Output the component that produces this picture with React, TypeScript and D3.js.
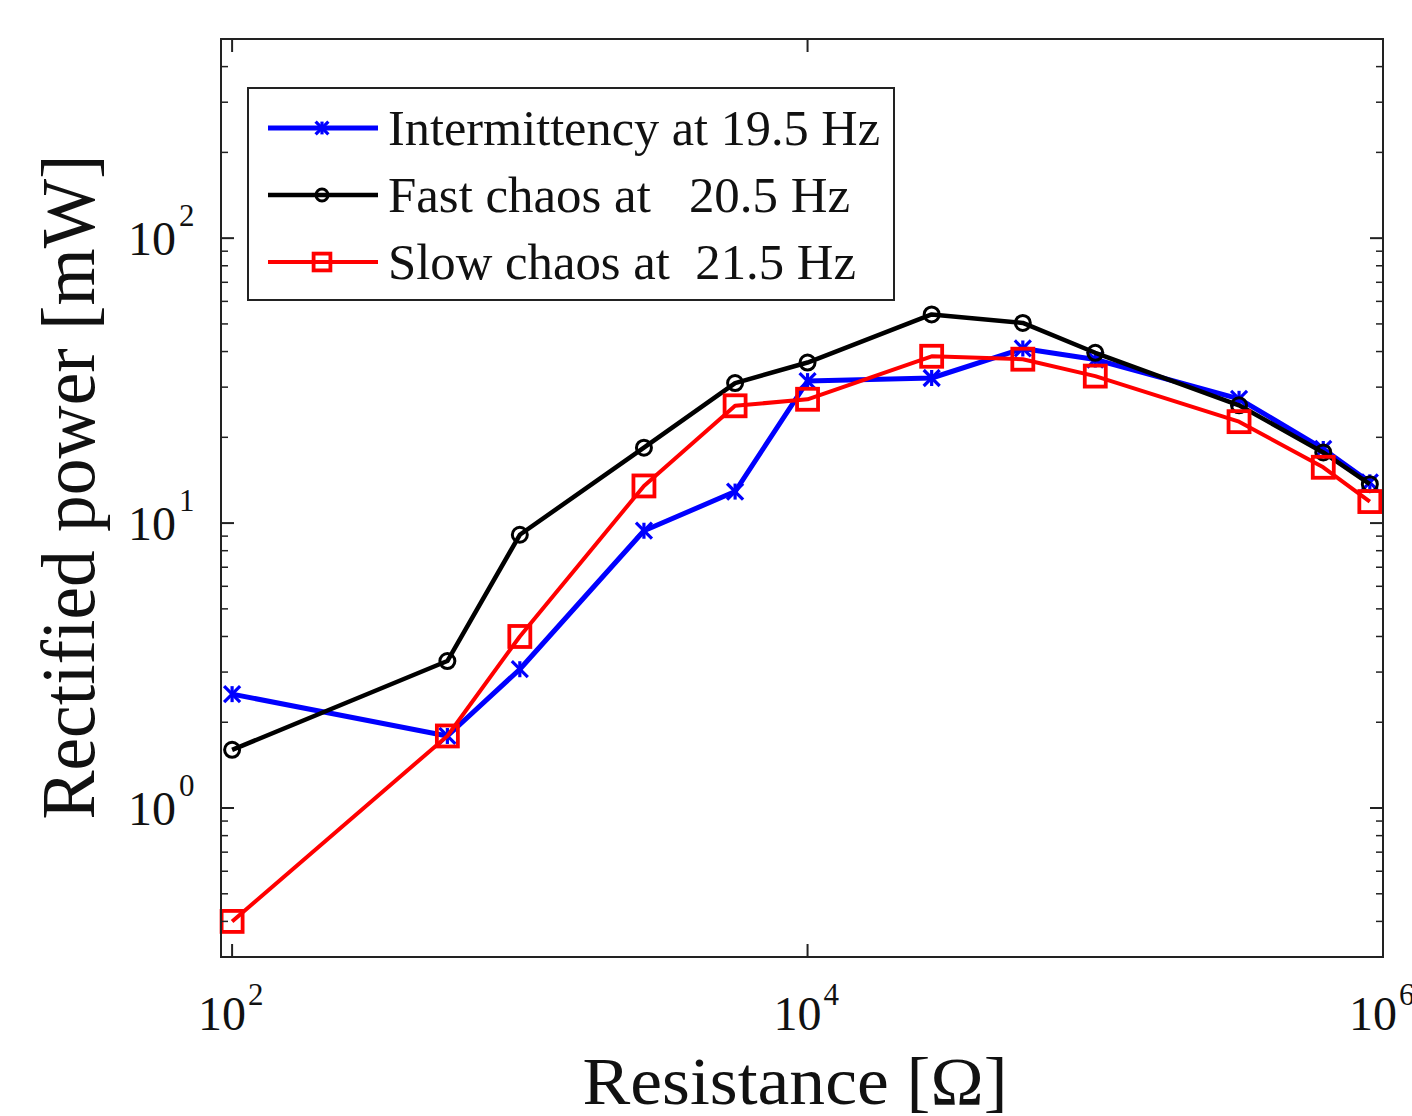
import React from "react";
import * as d3 from "d3";

const resistance = [100, 560, 1000, 2700, 5600, 10000, 27000, 56000, 100000, 316000, 620000, 900000];
const intermittency = [2.51, 1.79, 3.07, 9.4, 12.9, 31.5, 32.3, 41, 37.5, 27.3, 18.2, 13.9];
const fastChaos = [1.6, 3.28, 9.1, 18.4, 31, 36.6, 54, 50.4, 39.6, 25.9, 17.7, 13.7];
const slowChaos = [0.4, 1.79, 4.0, 13.5, 25.8, 27.2, 38.5, 37.6, 32.8, 22.7, 15.7, 11.9];

const seriesNames = ["Intermittency at 19.5 Hz", "Fast chaos at   20.5 Hz", "Slow chaos at  21.5 Hz"];
const seriesColors = ["#0000ff", "#000000", "#ff0000"];
const seriesMarkers = ["asterisk", "circle", "square"];
const seriesData = [intermittency, fastChaos, slowChaos];
const legendTextLengths = [492, 462, 468];

const xMajorTicks = [1e2, 1e4, 1e6];
const xTickExp = ["2", "4", "6"];
const yMajorTicks = [1, 10, 100];
const yTickExp = ["0", "1", "2"];

const L = 221, R = 1383, T = 39, B = 957;

function Marker({ type, cx, cy, color, scale = 1 }: { type: string; cx: number; cy: number; color: string; scale?: number }) {
  if (type === "circle") {
    return <circle cx={cx} cy={cy} r={7.5 * scale} fill="none" stroke={color} strokeWidth={3} />;
  }
  if (type === "square") {
    const h = 10.5 * scale;
    return <rect x={cx - h} y={cy - h} width={2 * h} height={2 * h} fill="none" stroke={color} strokeWidth={3.8} />;
  }
  const s = 8 * scale;
  return (
    <g stroke={color} strokeWidth={3.2}>
      <line x1={cx - s} y1={cy - s} x2={cx + s} y2={cy + s} />
      <line x1={cx - s} y1={cy + s} x2={cx + s} y2={cy - s} />
      <line x1={cx} y1={cy - s} x2={cx} y2={cy + s} />
    </g>
  );
}

export default function App() {
  const x = d3.scaleLog().domain([91.5, 1e6]).range([L, R]);
  const y = d3.scaleLog().domain([0.3, 500]).range([B, T]);

  const line = d3
    .line<[number, number]>()
    .x((d) => x(d[0]))
    .y((d) => y(d[1]));

  const yMinor: number[] = [];
  for (let e = -1; e <= 2; e++) {
    for (let m = 2; m <= 9; m++) {
      const v = m * Math.pow(10, e);
      if (v > 0.3 && v < 500) yMinor.push(v);
    }
  }

  const font = "'Liberation Serif', 'Times New Roman', serif";
  const widths = [5, 4.5, 4];

  return (
    <svg
      width={1412}
      height={1116}
      style={{ position: "absolute", left: 0, top: 0, background: "#fff" }}
      fontFamily={font}
    >
      <rect x={0} y={0} width={1412} height={1116} fill="#fff" />
      {seriesData.map((vals, i) => {
        const pts = resistance.map((r, j) => [r, vals[j]] as [number, number]);
        return (
          <g key={i}>
            <path d={line(pts) || ""} fill="none" stroke={seriesColors[i]} strokeWidth={widths[i]} strokeLinejoin="round" />
            {pts.map((p, j) => (
              <Marker key={j} type={seriesMarkers[i]} cx={x(p[0])} cy={y(p[1])} color={seriesColors[i]} />
            ))}
          </g>
        );
      })}
      <rect x={L} y={T} width={R - L} height={B - T} fill="none" stroke="#222" strokeWidth={2} />
      {yMajorTicks.map((v, i) => (
        <g key={"ym" + i}>
          <line x1={L} x2={L + 13} y1={y(v)} y2={y(v)} stroke="#222" strokeWidth={2} />
          <line x1={R} x2={R - 13} y1={y(v)} y2={y(v)} stroke="#222" strokeWidth={2} />
          <text x={176} y={y(v) + 17} fontSize={48} textAnchor="end" fill="#111">10</text>
          <text x={179} y={y(v) - 12} fontSize={31} fill="#111">{yTickExp[i]}</text>
        </g>
      ))}
      {yMinor.map((v, i) => (
        <g key={"yn" + i}>
          <line x1={L} x2={L + 7} y1={y(v)} y2={y(v)} stroke="#222" strokeWidth={1.5} />
          <line x1={R} x2={R - 7} y1={y(v)} y2={y(v)} stroke="#222" strokeWidth={1.5} />
        </g>
      ))}
      {xMajorTicks.map((v, i) => (
        <g key={"xm" + i}>
          <line x1={x(v)} x2={x(v)} y1={B} y2={B - 13} stroke="#222" strokeWidth={2} />
          <line x1={x(v)} x2={x(v)} y1={T} y2={T + 13} stroke="#222" strokeWidth={2} />
          <text x={x(v) - 10} y={1030} fontSize={48} textAnchor="middle" fill="#111">10</text>
          <text x={x(v) + 16} y={1005} fontSize={31} fill="#111">{xTickExp[i]}</text>
        </g>
      ))}
      <text x={795} y={1104} fontSize={68} textAnchor="middle" fill="#111" textLength={425} lengthAdjust="spacingAndGlyphs">
        Resistance [Ω]
      </text>
      <text
        transform={`translate(94, 487) rotate(-90)`}
        fontSize={76}
        textAnchor="middle"
        fill="#111"
        textLength={665}
        lengthAdjust="spacingAndGlyphs"
      >
        Rectified power [mW]
      </text>
      <rect x={248} y={88} width={646} height={212} fill="#fff" stroke="#222" strokeWidth={2} />
      {seriesNames.map((name, i) => {
        const ly = 128 + i * 67;
        return (
          <g key={"lg" + i}>
            <line x1={268} x2={378} y1={ly} y2={ly} stroke={seriesColors[i]} strokeWidth={widths[i]} />
            <Marker type={seriesMarkers[i]} cx={322} cy={ly} color={seriesColors[i]} scale={0.8} />
            <text
              x={388}
              y={ly + 17}
              fontSize={50}
              fill="#111"
              style={{ whiteSpace: "pre" }}
              textLength={legendTextLengths[i]}
              lengthAdjust="spacingAndGlyphs"
            >
              {name}
            </text>
          </g>
        );
      })}
    </svg>
  );
}
